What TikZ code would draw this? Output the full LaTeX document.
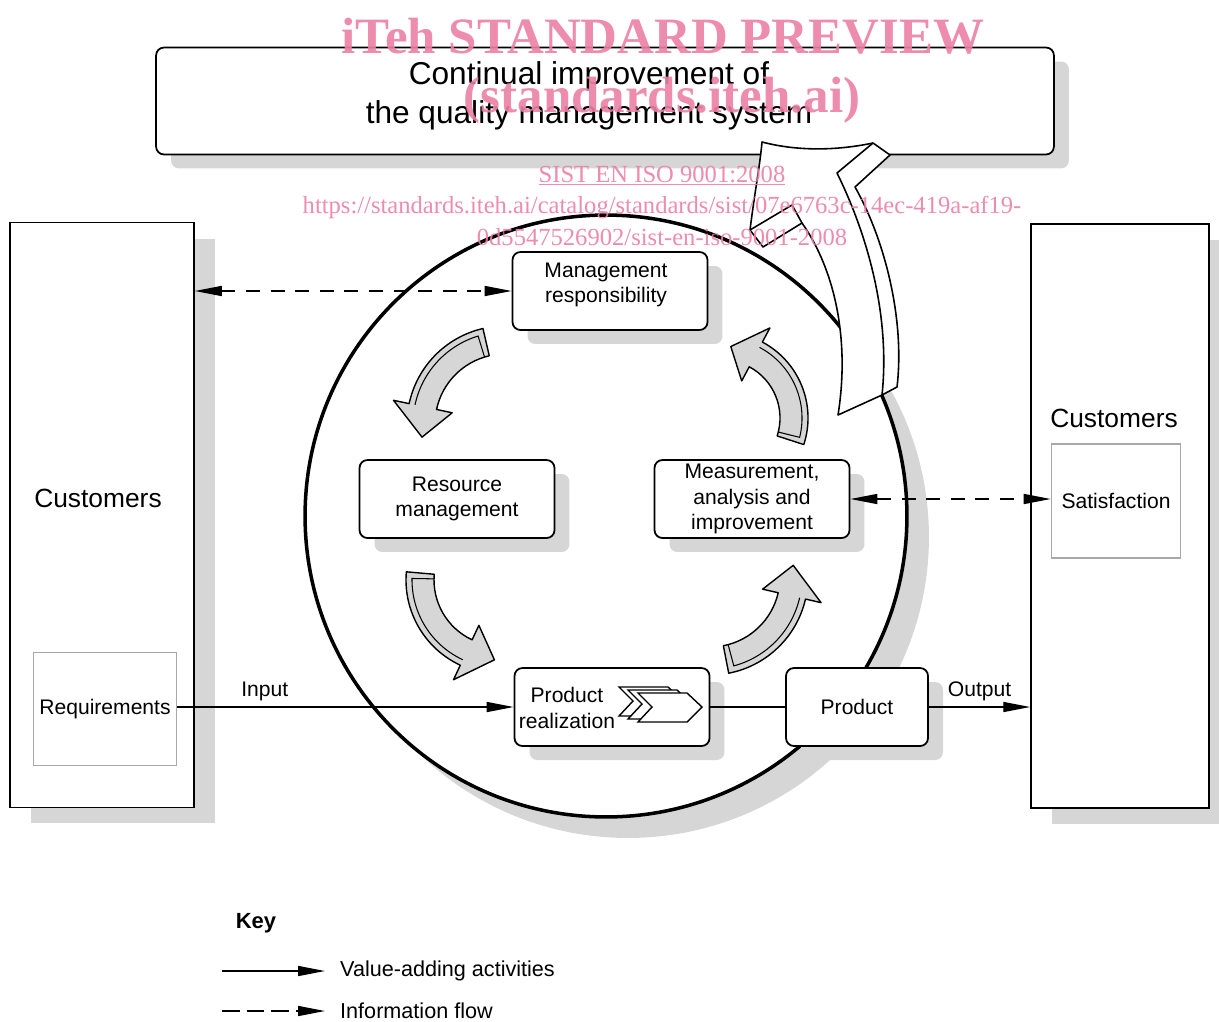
\documentclass[tikz,border=0pt]{standalone}
\usepackage{fontspec}
\setmainfont{Liberation Sans}
\newfontfamily\stampfont{Liberation Serif}
\usetikzlibrary{arrows.meta, shadows}

\definecolor{shadowgray}{gray}{0.84}
\definecolor{framegray}{gray}{0.66}
\definecolor{stamppink}{RGB}{236,128,164}

% centre, radius, from angle, to angle
\newcommand{\cyclearrow}[4]{%
	\pgfmathsetmacro{\cyclesign}{sign(#4-#3)}%
	\pgfmathsetmacro{\cycletip}{#4+21*\cyclesign}%
	\pgfmathsetmacro{\cycleedge}{#3+4*\cyclesign}%
	\filldraw[fill=shadowgray, line width=0.8pt, line join=round, shift={(#1)}]
		(#3:#2+14) arc[start angle=#3, end angle=#4, radius=#2+14]
		-- (#4:#2+30) -- (\cycletip:#2) -- (#4:#2-30) -- (#4:#2-14)
		arc[start angle=#4, end angle=#3, radius=#2-14] -- cycle;
	\draw[line width=0.6pt, shift={(#1)}] (\cycleedge:#2-14) -- (\cycleedge:#2+8)
		arc[start angle=\cycleedge, end angle=#4, radius=#2+8];
}

\begin{document}
\begin{tikzpicture}[x=0.02cm, y=-0.02cm, >={Triangle[length=0.54cm,width=0.2cm]},
	font=\fontsize{12}{14.4}\selectfont,
	box/.style={draw, line width=1pt, rounded corners=4.5pt, fill=white, align=center, inner ysep=1pt,
		minimum width=3.9cm, minimum height=1.56cm,
		drop shadow={shadow xshift=0.3cm, shadow yshift=-0.28cm, fill=shadowgray, opacity=1}},
	party/.style={draw, line width=0.9pt, fill=white, minimum width=3.68cm, minimum height=11.7cm,
		drop shadow={shadow xshift=0.42cm, shadow yshift=-0.32cm, fill=shadowgray, opacity=1}},
	need/.style={draw=framegray, line width=0.9pt, fill=white, minimum width=2.82cm, minimum height=2.26cm},
	value/.style={line width=0.85pt},
	info/.style={line width=0.85pt, dash pattern=on 8pt off 6pt},
	stamp/.style={text=stamppink, text opacity=0.9, anchor=base, inner sep=0pt}]
	\useasboundingbox (0,0) rectangle (1219,1021);

	\node[box, minimum width=17.96cm, minimum height=2.14cm] (goal) at (605,101) {};
	\node[align=center, font=\fontsize{18}{22}\selectfont] (goaltext) at (589,96) {Continual improvement of\\the quality management system};

	\node[party] (custL) at (102,515) {};
	\node[font=\fontsize{15}{18}\selectfont] (custLtext) at (98,498) {Customers};
	\node[need] (req) at (105,709) {Requirements};
	\node[party, minimum width=3.56cm, minimum height=11.68cm] (custR) at (1120,516) {};
	\node[font=\fontsize{15}{18}\selectfont] (custRtext) at (1114,418) {Customers};
	\node[need, minimum width=2.58cm, minimum height=2.28cm] (satis) at (1116,501) {Satisfaction};

	\node[circle, draw, line width=2pt, fill=white, minimum size=12.04cm,
		drop shadow={shadow xshift=0.44cm, shadow yshift=-0.42cm, fill=shadowgray, opacity=1}] (qms) at (606,516) {};

	\cyclearrow{505,424}{84}{-103}{-168}
	\cyclearrow{500,580}{80}{-175}{-245}
	\cyclearrow{710,577}{84}{79}{13}
	\cyclearrow{722,418}{72}{18}{-62}

	\node[box] (mgmt) at (610,291) {};
	\node[align=center] (mgmttext) at (606,285) {Management\\responsibility};
	\node[box] (res) at (457,499) {Resource\\management};
	\node[box] (meas) at (752,499) {Measurement,\\analysis and\\improvement};
	\node[box] (real) at (612,707) {};
	\node[align=center] (realtext) at (567,708) {Product\\realization};
	\foreach \dx/\dy in {-19/-6, -10/-3, 0/0}
		\filldraw[fill=white, line width=0.8pt, shift={(\dx,\dy)}] (638,693) -- (687,693) -- (702,707) -- (687,722) -- (638,722) -- (652,707) -- cycle;
	\node[box, minimum width=2.84cm] (prod) at (857,707) {Product};

	\path[value, ->] (req.east |- real.west) edge node[pos=0.26, above] {Input} (real.west);
	\path[value] (real) edge (prod);
	\path[value, ->] (prod.east) edge node[above] {Output} (prod.east -| custR.west);
	\path[info, <->] (mgmt.west -| custL.east) edge (mgmt.west);
	\path[info, <->] (meas.east) edge (meas.east -| satis.west);

	\filldraw[fill=white, line width=0.9pt, line join=round] (762,142) .. controls (800,152) and (840,150) .. (873,143)
		-- (890,155) -- (855,187) .. controls (885,240) and (905,320) .. (897,387) -- (882,395) -- (838,415)
		.. controls (850,340) and (835,270) .. (802,223) -- (763,247) -- (750,230)
		.. controls (755,190) and (760,165) .. (762,142) -- cycle;
	\draw[line width=0.9pt, line join=round] (873,143) -- (837,173) .. controls (870,240) and (890,320) .. (882,395);
	\draw[line width=0.9pt, line join=round] (750,230) -- (792,205) -- (802,223);

	\node[font=\fontsize{12.5}{15}\bfseries] (key) at (256,923) {Key};
	\coordinate (k1) at (222,971);
	\coordinate (k2) at (325,971);
	\coordinate (k3) at (222,1011);
	\coordinate (k4) at (325,1011);
	\path[value, ->] (k1) edge (k2);
	\path[info, dash pattern=on 10pt off 4pt, ->] (k3) edge (k4);
	\node[anchor=west, font=\fontsize{12.3}{14.4}\selectfont] (kvalue) at (334,971) {Value-adding activities};
	\node[anchor=west, font=\fontsize{12.3}{14.4}\selectfont] (kinfo) at (334,1011) {Information flow};

	\node[stamp, font=\stampfont\bfseries\fontsize{29}{29}\selectfont] (wmtitle) at (663,53) {iTeh STANDARD PREVIEW};
	\node[stamp, font=\stampfont\bfseries\fontsize{29}{29}\selectfont] (wmsite) at (662,112) {(standards.iteh.ai)};
	\node[stamp, font=\stampfont\fontsize{14}{14}\selectfont] (wmcode) at (662,182) {\underline{SIST EN ISO 9001:2008}};
	\node[stamp, font=\stampfont\fontsize{14}{14}\selectfont] (wmurl) at (662,213) {https://standards.iteh.ai/catalog/standards/sist/07e6763c-14ec-419a-af19-};
	\node[stamp, font=\stampfont\fontsize{14}{14}\selectfont] (wmfile) at (662,245) {0d5547526902/sist-en-iso-9001-2008};
\end{tikzpicture}
\end{document}
